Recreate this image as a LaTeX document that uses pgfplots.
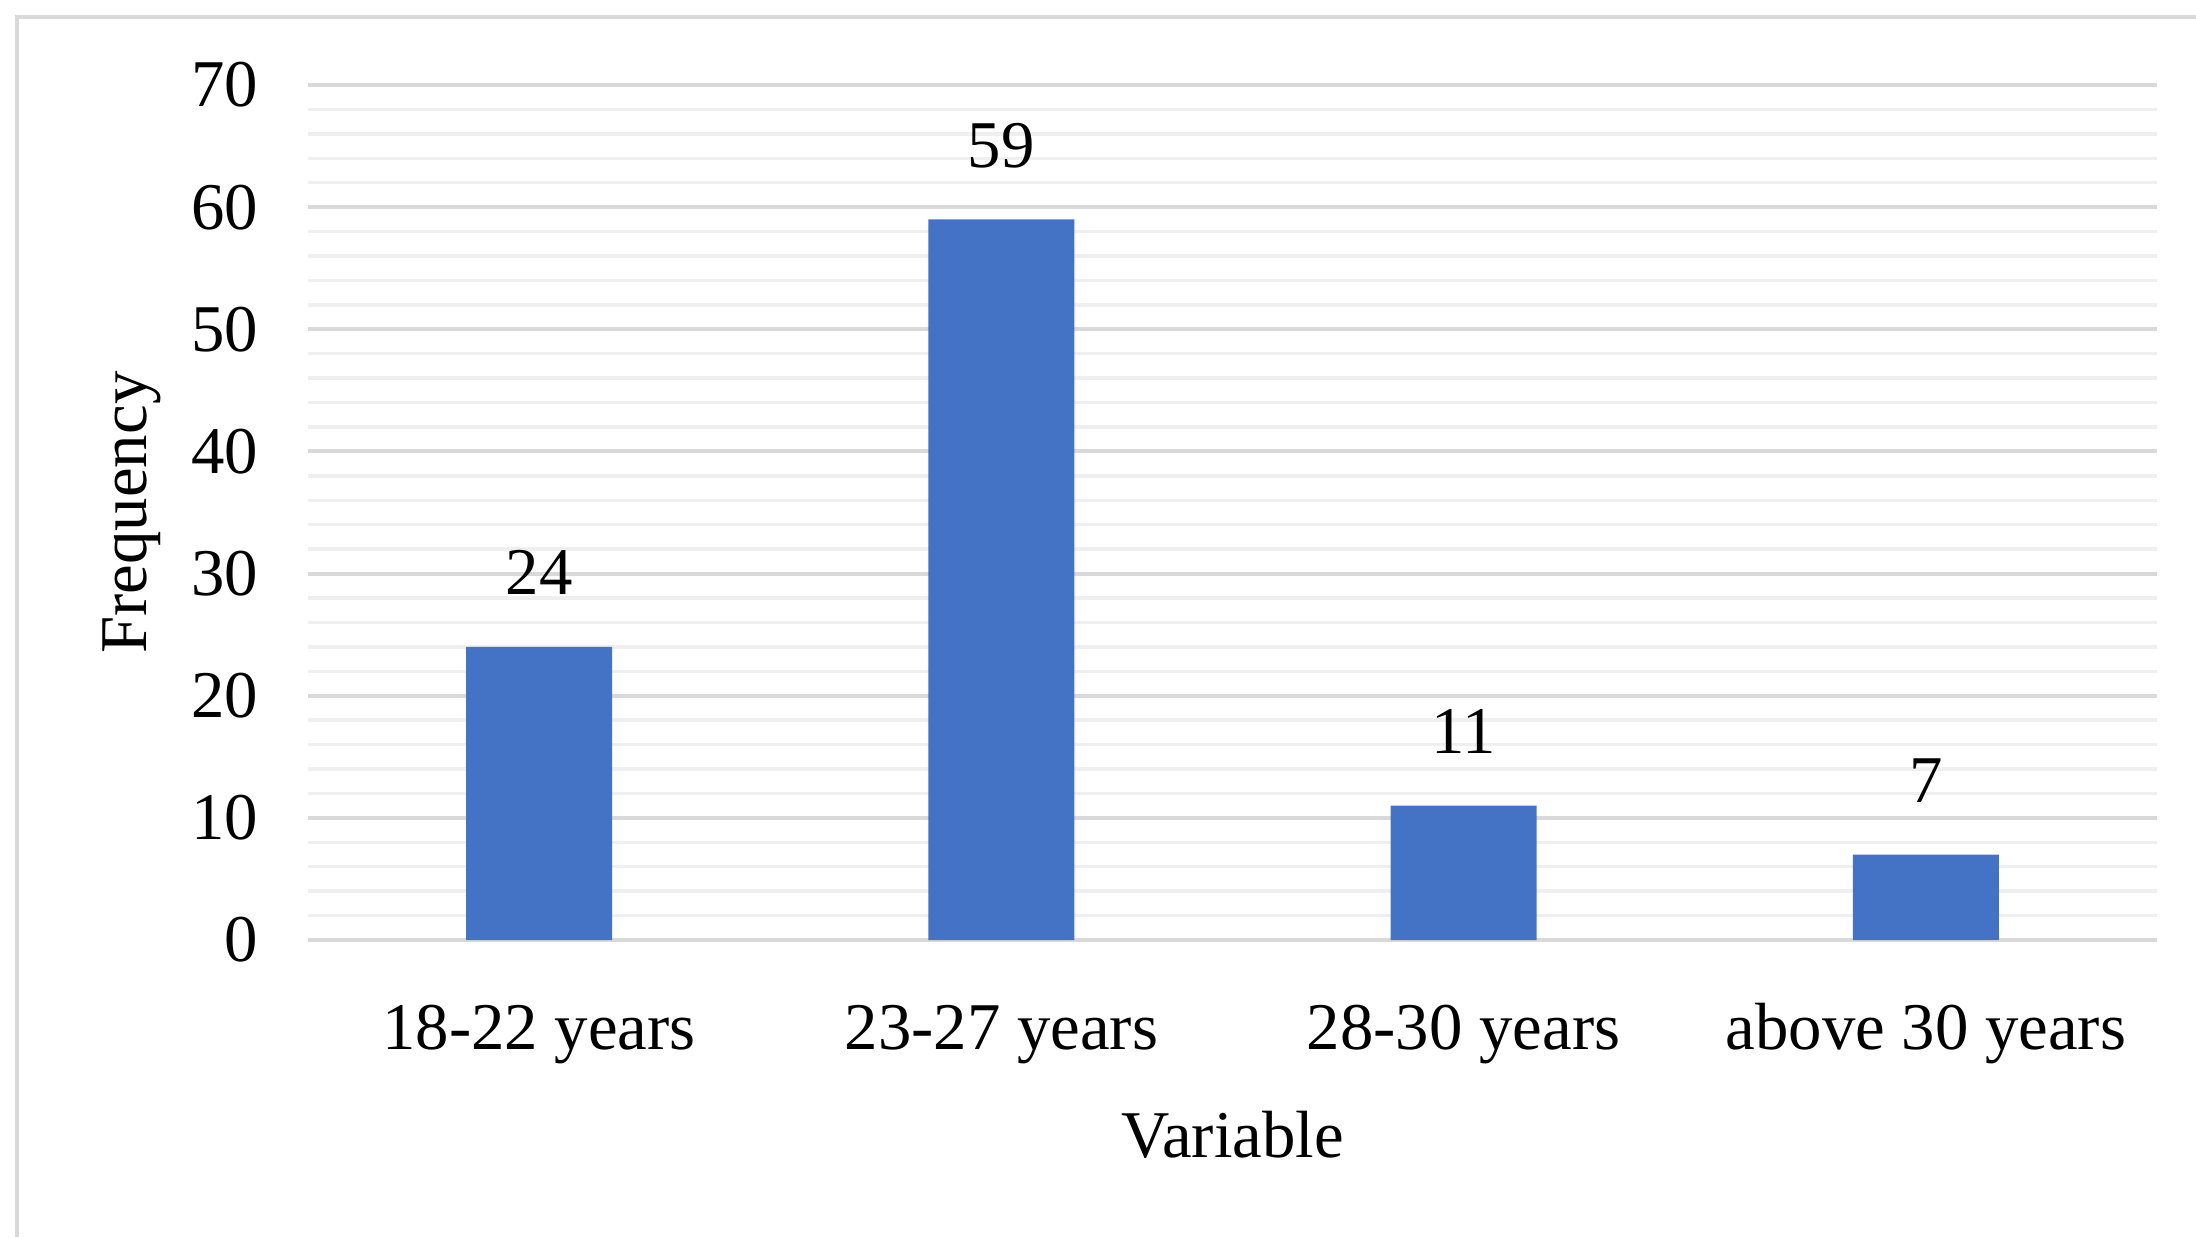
\documentclass[border=0pt]{standalone}
\usepackage{fontspec}
\setmainfont{Liberation Serif}
\usepackage{pgfplots}
\pgfplotsset{compat=1.18}
\definecolor{barblue}{HTML}{4472C4}
\definecolor{majgrid}{HTML}{D9D9D9}
\definecolor{mingrid}{HTML}{EFEFEF}
\definecolor{frame}{HTML}{D9D9D9}
\begin{document}
\fontsize{19}{23}\selectfont
\begin{tikzpicture}
\useasboundingbox (0,0) rectangle (219.6mm,123.7mm);
\draw[frame, line width=0.4mm] (1.7mm,0) -- (1.7mm,122.0mm) -- (219.6mm,122.0mm);
\begin{axis}[
  at={(30.8mm,29.7mm)}, anchor=south west,
  scale only axis, width=184.9mm, height=85.5mm,
  xmin=-0.5, xmax=3.5, ymin=0, ymax=70,
  xtick={0,1,2,3},
  xticklabels={18-22 years,23-27 years,28-30 years,above 30 years},
  ytick={0,10,...,70},
  minor y tick num=4,
  ymajorgrids, yminorgrids,
  major grid style={majgrid, line width=0.4mm},
  minor grid style={mingrid, line width=0.35mm},
  axis line style={draw=none},
  major tick style={draw=none}, minor tick style={draw=none},
  /pgf/number format/assume math mode=true,
  yticklabel style={anchor=east, inner sep=0pt, xshift=-4.9mm, font=\fontsize{19}{23}\selectfont},
  xticklabel style={anchor=base, inner sep=0pt, yshift=-9.4mm, font=\fontsize{19}{23}\selectfont},
  xlabel={Variable},
  xlabel style={at={(axis description cs:0.5,-0.254)}, anchor=base, inner sep=0pt, font=\fontsize{19}{23}\selectfont},
  ylabel={Frequency},
  ylabel style={at={(axis description cs:-0.0871,0.5)}, rotate=0, anchor=base, inner sep=0pt, font=\fontsize{19}{23}\selectfont},
  ybar, bar width=14.6mm,
  nodes near coords,
  nodes near coords style={anchor=base, inner sep=0pt, yshift=5.2mm, font=\fontsize{19}{23}\selectfont, /pgf/number format/assume math mode=true},
]
\addplot[fill=barblue, draw=none] coordinates {(0,24) (1,59) (2,11) (3,7)};
\end{axis}
\end{tikzpicture}
\end{document}
